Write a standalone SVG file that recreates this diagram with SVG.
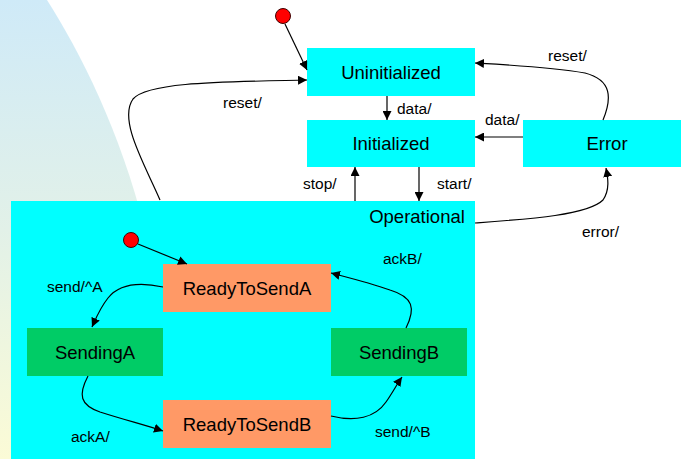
<svg xmlns="http://www.w3.org/2000/svg" width="681" height="459" viewBox="0 0 681 459">
  <defs>
    <linearGradient id="bgGrad" x1="0" y1="0" x2="0" y2="1">
      <stop offset="0" stop-color="#cfeaf8"/>
      <stop offset="0.5" stop-color="#e2f1e8"/>
      <stop offset="1" stop-color="#fbfbd6"/>
    </linearGradient>
    <marker id="arrow" viewBox="0 0 10 10" refX="10" refY="5" markerWidth="9" markerHeight="9" markerUnits="userSpaceOnUse" orient="auto">
      <path d="M0,0 L10,5 L0,10 Z" fill="#000"/>
    </marker>
    <style>
      .state { font-family: "Liberation Sans", Arial, sans-serif; font-size: 18.5px; fill: #000; text-anchor: middle; }
      .label { font-family: "Liberation Sans", Arial, sans-serif; font-size: 15.5px; fill: #000; }
      .cyan { fill: #00ffff; }
      .salmon { fill: #ff9966; }
      .green { fill: #00cc66; }
      .init { fill: #ff0000; stroke: #400000; stroke-width: 1; }
      .edge { fill: none; stroke: #000; stroke-width: 1.2; marker-end: url(#arrow); }
    </style>
  </defs>

  <!-- slide background -->
  <rect x="0" y="0" width="681" height="459" fill="#ffffff"/>
  <path d="M0,0 H47 C 80,52 120,130 145,230 L 180,459 H0 Z" fill="url(#bgGrad)"/>

  <!-- composite state -->
  <g id="operational">
    <rect class="cyan" x="11" y="201" width="464" height="260"/>
    <text class="state" x="417" y="223">Operational</text>
  </g>

  <g id="uninitialized">
    <rect class="cyan" x="307" y="48" width="168" height="48"/>
    <text class="state" x="391" y="79">Uninitialized</text>
  </g>

  <g id="initialized">
    <rect class="cyan" x="307" y="120" width="168" height="47"/>
    <text class="state" x="391" y="150">Initialized</text>
  </g>

  <g id="error">
    <rect class="cyan" x="523" y="120" width="170" height="47"/>
    <text class="state" x="607" y="150">Error</text>
  </g>

  <g id="initial-top">
    <circle class="init" cx="283" cy="16" r="7.5"/>
  </g>

  <g id="initial-inner">
    <circle class="init" cx="131" cy="240" r="7.5"/>
  </g>

  <g id="readyToSendA">
    <rect class="salmon" x="163" y="264" width="168" height="48"/>
    <text class="state" x="247" y="295">ReadyToSendA</text>
  </g>

  <g id="sendingA">
    <rect class="green" x="27" y="328" width="136" height="48"/>
    <text class="state" x="95" y="359">SendingA</text>
  </g>

  <g id="sendingB">
    <rect class="green" x="331" y="328" width="136" height="48"/>
    <text class="state" x="399" y="359">SendingB</text>
  </g>

  <g id="readyToSendB">
    <rect class="salmon" x="163" y="400" width="168" height="48"/>
    <text class="state" x="247" y="431">ReadyToSendB</text>
  </g>

  <!-- transitions -->
  <g id="connectors">
    <path class="edge" d="M285,24 L307,70"/>
    <path class="edge" d="M160,200 C 145,165 118,120 133,99 C 148,82 220,82 307,80"/>
    <path class="edge" d="M387,96 L387,120"/>
    <path class="edge" d="M419,167 L419,201"/>
    <path class="edge" d="M355,201 L355,167"/>
    <path class="edge" d="M523,137 L475,137"/>
    <path class="edge" d="M603,120 C 612,98 612,80 585,73 C 550,67 510,65 475,63"/>
    <path class="edge" d="M475,223 C 530,219 588,215 603,200 C 610,190 608,178 606,168"/>

    <path class="edge" d="M138,244 L187,264"/>
    <path class="edge" d="M163,287 C 140,282 120,283 108,298 C 100,308 96,318 92,327"/>
    <path class="edge" d="M88,376 C 78,395 80,405 100,412 C 125,420 145,425 163,431"/>
    <path class="edge" d="M331,416 C 355,422 375,418 386,402 C 393,392 397,384 402,377"/>
    <path class="edge" d="M406,328 C 416,308 413,297 390,290 C 370,283 350,278 331,273"/>
  </g>

  <!-- transition labels -->
  <g id="labels">
    <text class="label" x="223" y="108">reset/</text>
    <text class="label" x="397" y="114">data/</text>
    <text class="label" x="437" y="189">start/</text>
    <text class="label" x="303" y="189">stop/</text>
    <text class="label" x="485" y="125">data/</text>
    <text class="label" x="548" y="61">reset/</text>
    <text class="label" x="582" y="237">error/</text>
    <text class="label" x="47" y="292">send/^A</text>
    <text class="label" x="71" y="442">ackA/</text>
    <text class="label" x="375" y="437">send/^B</text>
    <text class="label" x="383" y="264">ackB/</text>
  </g>
</svg>
